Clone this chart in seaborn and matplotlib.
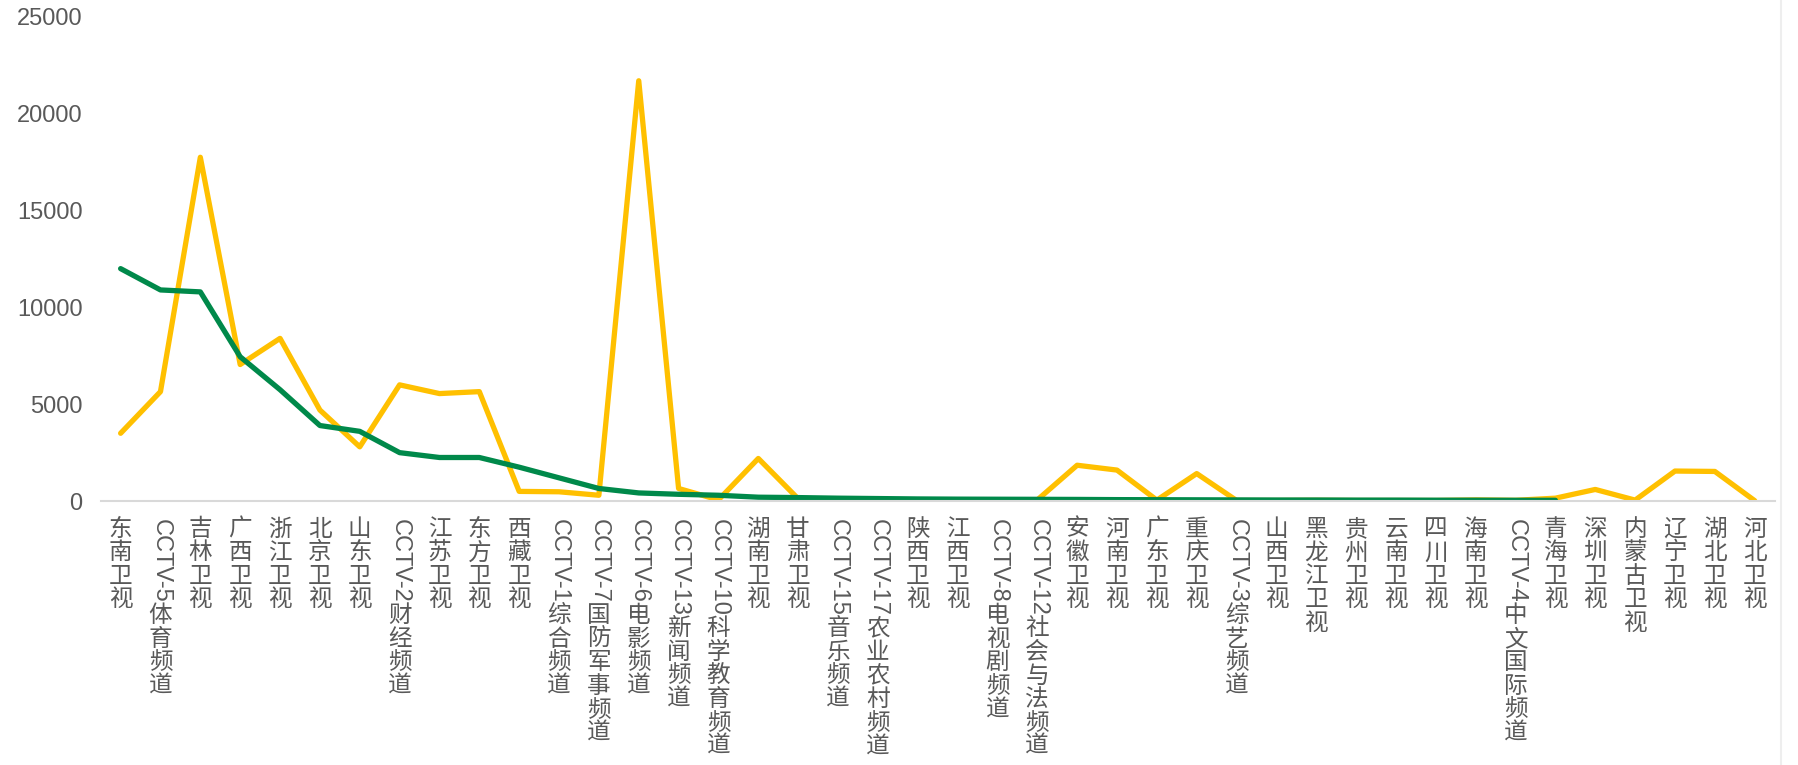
import re
import pandas as pd
import seaborn as sns
import matplotlib.pyplot as plt
from matplotlib.lines import Line2D

CHANNELS = [
    "东南卫视", "CCTV-5体育频道", "吉林卫视", "广西卫视", "浙江卫视", "北京卫视",
    "山东卫视", "CCTV-2财经频道", "江苏卫视", "东方卫视", "西藏卫视", "CCTV-1综合频道",
    "CCTV-7国防军事频道", "CCTV-6电影频道", "CCTV-13新闻频道", "CCTV-10科学教育频道",
    "湖南卫视", "甘肃卫视", "CCTV-15音乐频道", "CCTV-17农业农村频道", "陕西卫视",
    "江西卫视", "CCTV-8电视剧频道", "CCTV-12社会与法频道", "安徽卫视", "河南卫视",
    "广东卫视", "重庆卫视", "CCTV-3综艺频道", "山西卫视", "黑龙江卫视", "贵州卫视",
    "云南卫视", "四川卫视", "海南卫视", "CCTV-4中文国际频道", "青海卫视", "深圳卫视",
    "内蒙古卫视", "辽宁卫视", "湖北卫视", "河北卫视",
]

YELLOW_VALUES = [
    3500, 5650, 17750, 7050, 8400, 4700, 2800, 6000, 5550, 5650, 500, 480,
    300, 21700, 650, 60, 2200, 120, 60, 50, 50, 60, 50, 60, 1850, 1600,
    50, 1420, 30, 30, 40, 30, 30, 30, 60, 40, 150, 600, 50, 1550, 1530, 20,
]

# green series only runs up to 青海卫视
GREEN_VALUES = [
    12000, 10900, 10800, 7450, 5750, 3900, 3600, 2500, 2250, 2250, 1750, 1200,
    650, 420, 350, 300, 200, 180, 150, 130, 110, 100, 95, 90, 85, 75,
    70, 65, 60, 55, 55, 50, 50, 45, 45, 40, 40,
]

YELLOW = "#FFC000"
GREEN = "#00894A"
TEXT_GREY = "#595959"
FONT_SIZE = 17

sns.set_style("white")
plt.rcParams['font.family'] = ['Liberation Sans', 'Noto Sans CJK SC', 'DejaVu Sans']

yellow_df = pd.DataFrame({'channel': CHANNELS, 'value': YELLOW_VALUES})
green_df = pd.DataFrame({'channel': CHANNELS[:len(GREEN_VALUES)], 'value': GREEN_VALUES})

fig = plt.figure(figsize=(17.98, 7.65), dpi=100)
ax = fig.add_axes([0.056, 0.345, 0.931, 0.633])

sns.lineplot(data=yellow_df, x='channel', y='value', sort=False, color=YELLOW,
             linewidth=3.8, ax=ax)
sns.lineplot(data=green_df, x='channel', y='value', sort=False, color=GREEN,
             linewidth=3.8, ax=ax)

ax.set_xlim(-0.5, len(CHANNELS) - 0.5)
ax.set_ylim(0, 25000)
ax.set_yticks(range(0, 25001, 5000))
ax.tick_params(axis='y', labelsize=FONT_SIZE, colors=TEXT_GREY, length=0, pad=13)
ax.set_xticks(range(len(CHANNELS)))
ax.set_xticklabels([])
ax.tick_params(axis='x', length=0)
ax.set_xlabel('')
ax.set_ylabel('')

for side in ['top', 'right', 'left']:
    ax.spines[side].set_visible(False)
ax.spines['bottom'].set_color('#D9D9D9')
ax.spines['bottom'].set_linewidth(1.5)

# vertical style category labels: latin prefix turned, chinese stacked upright
for i, name in enumerate(CHANNELS):
    m = re.match(r'^(CCTV-\d+)(.*)$', name)
    if m:
        head = ax.annotate(m.group(1), xy=(i, 0), xycoords=('data', 'axes fraction'),
                           xytext=(0, -13), textcoords='offset points',
                           rotation=270, ha='center', va='top',
                           fontsize=FONT_SIZE, color=TEXT_GREY,
                           family=['Liberation Sans', 'DejaVu Sans'])
        ax.annotate('\n'.join(m.group(2)), xy=(0.5, 0), xycoords=head,
                    xytext=(0, -1), textcoords='offset points',
                    ha='center', va='top', fontsize=FONT_SIZE, linespacing=1.03,
                    color=TEXT_GREY, family=['Noto Sans CJK SC', 'DejaVu Sans'])
    else:
        ax.annotate('\n'.join(name), xy=(i, 0), xycoords=('data', 'axes fraction'),
                    xytext=(0, -12), textcoords='offset points',
                    ha='center', va='top', fontsize=FONT_SIZE, linespacing=1.03,
                    color=TEXT_GREY, family=['Noto Sans CJK SC', 'DejaVu Sans'])

fig.add_artist(Line2D([0.9905, 0.9905], [0.0, 1.0], color='#EEEEEE', linewidth=1.5))

plt.savefig("out.png", dpi=100)
